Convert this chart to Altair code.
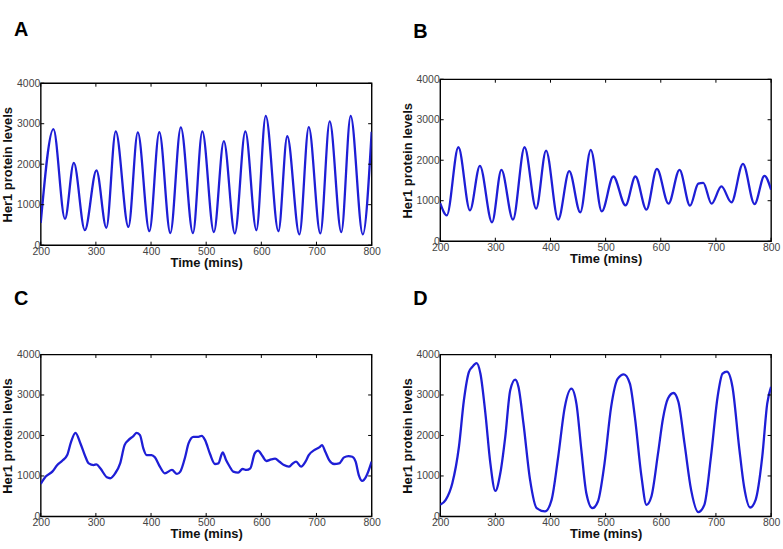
import altair as alt
import pandas as pd

# ---------------- data ----------------
X_TICKS = [200, 300, 400, 500, 600, 700, 800]
Y_TICKS = [0, 1000, 2000, 3000, 4000]

times_a = [200, 223, 244, 260, 280, 301, 319, 336, 359, 376, 397, 415, 435, 454, 476,
           493, 514, 532, 552, 571, 591, 608, 631, 647, 669, 686, 707, 724, 745, 762, 784, 800]
values_a = [550, 2866, 650, 2030, 370, 1850, 430, 2810, 450, 2785, 345, 2790, 300, 2910, 300,
            2810, 320, 2570, 290, 2810, 370, 3195, 345, 2690, 265, 2915, 290, 3055, 320, 3195, 265, 2800]

times_b = [200, 212, 233, 254, 272, 294, 311, 332, 353, 374, 392, 414, 434, 454, 473, 493,
           514, 536, 554, 574, 593, 614, 634, 653, 668, 677, 692, 710, 728, 749, 770, 788, 800]
values_b = [943, 640, 2320, 762, 1860, 467, 1762, 533, 2320, 803, 2238, 533, 1730, 713, 2254, 738,
            1598, 885, 1598, 779, 1787, 926, 1762, 877, 1420, 1440, 926, 1352, 959, 1910, 918, 1615, 1270]

times_c = [200, 209, 221, 230, 239, 248, 255, 263, 272, 281, 287, 296, 301, 308, 320, 326, 335,
           344, 352, 359, 368, 374, 380, 386, 392, 401, 407, 416, 425, 438, 447, 453, 462, 468,
           477, 486, 492, 498, 507, 516, 522, 530, 536, 542, 549, 558, 566, 573, 580, 588, 594,
           602, 609, 618, 625, 633, 641, 650, 656, 663, 672, 680, 686, 696, 705, 710, 716, 723,
           732, 741, 750, 758, 765, 771, 777, 783, 790, 800]
values_c = [803, 984, 1107, 1270, 1377, 1516, 1844, 2066, 1803, 1475, 1311, 1270, 1287, 1189, 967, 943, 1066,
            1311, 1762, 1885, 1984, 2066, 2008, 1680, 1516, 1516, 1459, 1230, 1066, 1148, 1049, 1107, 1475, 1803,
            1967, 1967, 1992, 1885, 1541, 1295, 1311, 1582, 1393, 1246, 1107, 1082, 1172, 1148, 1189, 1557, 1623,
            1492, 1369, 1410, 1426, 1352, 1270, 1230, 1295, 1352, 1230, 1352, 1516, 1639, 1705, 1762, 1598, 1393,
            1295, 1311, 1459, 1492, 1475, 1352, 1008, 877, 984, 1352]

times_d = [200, 210, 222, 234, 243, 252, 258, 266, 273, 282, 291, 300, 309, 318, 327, 336, 342,
           351, 363, 375, 390, 402, 414, 426, 438, 447, 456, 465, 476, 486, 498, 510, 522, 533,
           544, 553, 565, 574, 583, 595, 604, 613, 623, 632, 643, 655, 668, 679, 691, 703, 712,
           720, 730, 742, 751, 762, 772, 784, 793, 800]
values_d = [287, 410, 820, 1721, 2869, 3566, 3689, 3787, 3525, 2541, 1311, 631, 1066, 1967, 3115, 3377, 3197,
            2295, 902, 205, 123, 410, 1475, 2705, 3156, 2787, 1639, 574, 205, 369, 1311, 2705, 3402, 3508,
            3279, 2459, 984, 287, 492, 1557, 2418, 2910, 3049, 2828, 1803, 656, 107, 287, 1475, 2951, 3525,
            3574, 3197, 1721, 738, 221, 410, 1475, 2787, 3197]

# ---------------- styling ----------------
W, H = 333, 163
BLUE = "#1e1ed6"
FONT = "Liberation Sans"
TICK = 3.5


def panel(t, v, letter, offset):
    df = pd.DataFrame({"t": t, "v": v})
    xt = pd.DataFrame({"t": X_TICKS})
    yt = pd.DataFrame({"v": Y_TICKS})
    xenc = alt.X("t:Q", scale=alt.Scale(domain=[200, 800], nice=False, zero=False),
                 axis=alt.Axis(values=X_TICKS, title="Time (mins)", ticks=False, domain=False,
                               grid=False, labelPadding=1, titlePadding=0, format="d",
                               labelFlush=False, labelOverlap=False))
    yenc = alt.Y("v:Q", scale=alt.Scale(domain=[0, 4000], nice=False),
                 axis=alt.Axis(values=Y_TICKS, title="Her1 protein levels", ticks=False, domain=False,
                               grid=False, labelPadding=1, titlePadding=2, format="d",
                               labelFlush=False, labelOverlap=False))
    line = alt.Chart(df).mark_line(color=BLUE, strokeWidth=2.3, interpolate="monotone",
                                   clip=True).encode(x=xenc, y=yenc)
    bot = alt.Chart(xt).mark_rule(color="black", strokeWidth=1).encode(
        x=xenc, y=alt.value(H), y2=alt.value(H - TICK))
    top = alt.Chart(xt).mark_rule(color="black", strokeWidth=1).encode(
        x=xenc, y=alt.value(0), y2=alt.value(TICK))
    left = alt.Chart(yt).mark_rule(color="black", strokeWidth=1).encode(
        y=yenc, x=alt.value(0), x2=alt.value(TICK))
    right = alt.Chart(yt).mark_rule(color="black", strokeWidth=1).encode(
        y=yenc, x=alt.value(W), x2=alt.value(W - TICK))
    return alt.layer(line, bot, top, left, right).properties(
        width=W, height=H,
        view=alt.ViewBackground(stroke="black", strokeWidth=1.4),
        title=alt.TitleParams(letter, anchor="start", frame="group", dx=-27, offset=offset,
                              fontSize=20, fontWeight="bold", font=FONT, color="black"))


def spacer(h):
    return alt.Chart(pd.DataFrame({"s": [0]})).mark_rule(strokeWidth=0, opacity=0).encode(
        x=alt.value(0), y=alt.value(0), y2=alt.value(h)
    ).properties(width=1, height=h,
                 view=alt.ViewBackground(stroke="transparent", fill="transparent"))


A = panel(times_a, values_a, "A", 39)
B = panel(times_b, values_b, "B", 33)
C = panel(times_c, values_c, "C", 41)
D = panel(times_d, values_d, "D", 41)

left_col = alt.vconcat(alt.vconcat(spacer(1), A, spacing=0), C, spacing=17)
right_col = alt.vconcat(alt.vconcat(spacer(3), B, spacing=0), D, spacing=21)

chart = alt.hconcat(left_col, right_col, spacing=18).properties(
    padding={"left": 0, "top": 14, "right": 2, "bottom": 2},
    background="white",
).configure_view(
    stroke="transparent"
).configure_axis(
    labelFont=FONT, labelFontSize=10.5, labelColor="#444",
    titleFont=FONT, titleFontSize=13, titleFontWeight="bold", titleColor="#111",
)

chart.save("out.html", embed_options={"renderer": "svg", "actions": False})
